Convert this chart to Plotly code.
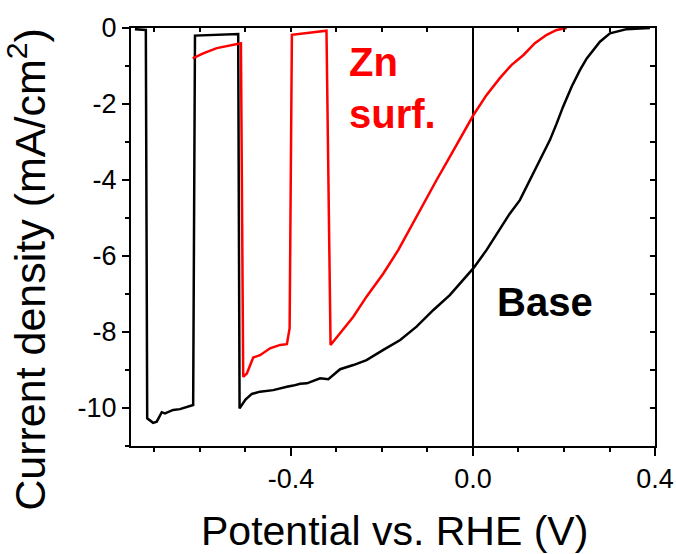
import plotly.graph_objects as go

# Base (black) curve
base_x = [-0.743, -0.719, -0.716, -0.703, -0.695, -0.684, -0.677, -0.659, -0.644, -0.615,
          -0.611, -0.516, -0.513, -0.500, -0.486, -0.468, -0.439, -0.424, -0.409, -0.395,
          -0.380, -0.365, -0.350, -0.336, -0.318, -0.305, -0.292, -0.263, -0.234, -0.197,
          -0.160, -0.124, -0.087, -0.051, -0.025, 0.001, 0.030, 0.059, 0.080, 0.103,
          0.118, 0.140, 0.151, 0.169, 0.184, 0.198, 0.217, 0.235, 0.250, 0.264,
          0.279, 0.301, 0.315, 0.338, 0.367, 0.389]
base_y = [-0.03, -0.05, -10.27, -10.39, -10.36, -10.11, -10.14, -10.05, -10.03, -9.92,
          -0.20, -0.16, -10.01, -9.78, -9.63, -9.57, -9.53, -9.48, -9.44, -9.41,
          -9.36, -9.35, -9.29, -9.22, -9.24, -9.12, -8.98, -8.87, -8.74, -8.47,
          -8.21, -7.86, -7.42, -7.03, -6.68, -6.32, -5.84, -5.30, -4.90, -4.53,
          -4.18, -3.65, -3.39, -2.95, -2.51, -2.07, -1.54, -1.11, -0.80, -0.58,
          -0.36, -0.14, -0.10, -0.03, -0.01, 0.0]

# Zn surf. (red) curve
zn_x = [-0.616, -0.593, -0.563, -0.534, -0.516, -0.510, -0.505, -0.497, -0.483, -0.468,
        -0.446, -0.424, -0.409, -0.403, -0.398, -0.322, -0.313, -0.292, -0.263, -0.234,
        -0.197, -0.164, -0.135, -0.105, -0.080, -0.051, -0.025, 0.001, 0.030, 0.059,
        0.085, 0.111, 0.136, 0.162, 0.184, 0.206]
zn_y = [-0.80, -0.67, -0.53, -0.45, -0.40, -0.40, -9.18, -9.09, -8.67, -8.61,
        -8.43, -8.34, -8.32, -7.90, -0.18, -0.07, -8.34, -8.03, -7.60, -7.07,
        -6.46, -5.84, -5.20, -4.53, -4.00, -3.39, -2.84, -2.29, -1.76, -1.32,
        -0.97, -0.71, -0.40, -0.18, -0.05, 0.0]

x_ticks = [-0.4, 0.0, 0.4]
x_ticktext = ["-0.4", "0.0", "0.4"]
y_ticks = [0, -2, -4, -6, -8, -10]
y_ticktext = ["0", "-2", "-4", "-6", "-8", "-10"]

FONT = "Liberation Sans, Arial, sans-serif"
XR = [-0.7516, 0.4]
YR = [-11, 0]

fig = go.Figure()
fig.add_trace(go.Scatter(x=base_x, y=base_y, mode="lines",
                         line=dict(color="black", width=2.5), showlegend=False))
fig.add_trace(go.Scatter(x=zn_x, y=zn_y, mode="lines",
                         line=dict(color="#ff0000", width=2.5), showlegend=False))
# dummy trace to activate mirrored (top/right) axes
fig.add_trace(go.Scatter(x=[None], y=[None], xaxis="x2", yaxis="y2",
                         showlegend=False, hoverinfo="skip"))

fig.update_layout(
    width=676, height=554,
    margin=dict(l=131, r=21, t=28, b=108, autoexpand=False),
    paper_bgcolor="white", plot_bgcolor="white",
    font=dict(family=FONT, color="black"),
    xaxis=dict(range=XR, automargin=False, showgrid=False, zeroline=True, zerolinecolor="black",
               zerolinewidth=2, showline=True, linecolor="black", linewidth=2,
               ticks="outside", ticklen=8, tickwidth=1.5, tickcolor="black",
               tickmode="array", tickvals=x_ticks, ticktext=x_ticktext,
               tickfont=dict(size=27, family=FONT),
               minor=dict(dtick=0.1, tick0=0, ticks="outside", ticklen=4,
                          tickwidth=1.5, tickcolor="black", showgrid=False)),
    yaxis=dict(range=YR, automargin=False, showgrid=False, zeroline=False, showline=True,
               linecolor="black", linewidth=2,
               ticks="outside", ticklen=7, tickwidth=1.5, tickcolor="black",
               tickmode="array", tickvals=y_ticks, ticktext=y_ticktext,
               tickfont=dict(size=27, family=FONT),
               minor=dict(dtick=1, tick0=0, ticks="outside", ticklen=4,
                          tickwidth=1.5, tickcolor="black", showgrid=False)),
    xaxis2=dict(range=XR, automargin=False, overlaying="x", side="top", showgrid=False,
                zeroline=False, showline=True, linecolor="black", linewidth=2,
                ticks="inside", ticklen=4, tickwidth=1.5, tickcolor="black",
                dtick=0.1, tick0=0, showticklabels=False),
    yaxis2=dict(range=YR, automargin=False, overlaying="y", side="right", showgrid=False,
                zeroline=False, showline=True, linecolor="black", linewidth=2,
                ticks="inside", ticklen=5, tickwidth=1.5, tickcolor="black",
                dtick=1, tick0=0, showticklabels=False),
)

fig.add_annotation(text="Potential vs. RHE (V)", xref="paper", yref="paper",
                   x=0.502, y=-0.204, xanchor="center", yanchor="middle",
                   showarrow=False, font=dict(size=41, family=FONT, color="black"))
fig.add_annotation(text="Current density (mA/cm<sup>2</sup>)", xref="paper", yref="paper",
                   x=-0.2, y=0.422, xanchor="center", yanchor="middle", textangle=-90,
                   showarrow=False, font=dict(size=43, family=FONT, color="black"))
fig.add_annotation(text="<b>Zn</b>", x=-0.278, y=-0.90, xanchor="left", yanchor="middle",
                   showarrow=False, font=dict(size=40, family=FONT, color="#ff0000"))
fig.add_annotation(text="<b>surf.</b>", x=-0.278, y=-2.27, xanchor="left", yanchor="middle",
                   showarrow=False, font=dict(size=40, family=FONT, color="#ff0000"))
fig.add_annotation(text="<b>Base</b>", x=0.048, y=-7.22, xanchor="left", yanchor="middle",
                   showarrow=False, font=dict(size=40, family=FONT, color="black"))

fig.write_html("out.html")
